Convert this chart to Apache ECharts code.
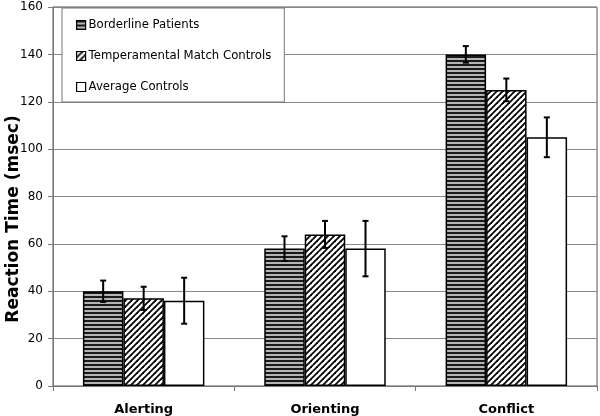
<!DOCTYPE html>
<html>
<head>
<meta charset="utf-8">
<script src="https://cdn.jsdelivr.net/npm/echarts@6/dist/echarts.min.js"></script>
<style>
  html, body { margin: 0; padding: 0; background: #fff; }
  #main { width: 600px; height: 416px; }
</style>
</head>
<body>
<div id="main"></div>
<script>
var categories = ['Alerting', 'Orienting', 'Conflict']
var groupNames = ['Borderline Patients', 'Temperamental Match Controls', 'Average Controls']
var borderlineMeans = [40, 58, 140]
var temperamentalMeans = [37, 64, 125]
var averageMeans = [36, 58, 105]
var borderlineErr = [4.5, 5.2, 3.5]
var temperamentalErr = [4.9, 5.7, 4.8]
var averageErr = [9.7, 11.7, 8.4]
var yTitle = 'Reaction Time (msec)'

// fill patterns, drawn on small canvases
function stripePattern() {
  var c = document.createElement('canvas')
  c.width = 8
  c.height = 4
  var ctx = c.getContext('2d')
  ctx.fillStyle = '#b4b4b4'
  ctx.fillRect(0, 0, 8, 4)
  ctx.fillStyle = '#1a1a1a'
  ctx.fillRect(0, 0, 8, 2)
  return { image: c, repeat: 'repeat' }
}
function hatchPattern() {
  var c = document.createElement('canvas')
  c.width = 6
  c.height = 6
  var ctx = c.getContext('2d')
  ctx.fillStyle = '#fff'
  ctx.fillRect(0, 0, 6, 6)
  ctx.strokeStyle = '#000'
  ctx.lineWidth = 1.8
  for (var k = -6; k <= 12; k += 6) {
    ctx.beginPath()
    ctx.moveTo(k - 1, 7)
    ctx.lineTo(k + 7, -1)
    ctx.stroke()
  }
  return { image: c, repeat: 'repeat' }
}

var fills = [stripePattern(), hatchPattern(), '#ffffff']
var means = [borderlineMeans, temperamentalMeans, averageMeans]
var errs = [borderlineErr, temperamentalErr, averageErr]

var errData = []
for (var s = 0; s < 3; s++) {
  for (var i = 0; i < categories.length; i++) {
    errData.push([i, s, means[s][i] - errs[s][i], means[s][i] + errs[s][i]])
  }
}

var font = 'DejaVu Sans, Verdana, sans-serif'
var catGap = 0.33

var series = []
for (var s = 0; s < 3; s++) {
  series.push({
    name: groupNames[s],
    type: 'bar',
    data: means[s],
    barGap: '0%',
    barCategoryGap: catGap * 100 + '%',
    itemStyle: { color: fills[s], borderColor: '#000', borderWidth: 1.5 },
    emphasis: { disabled: true },
  })
}
series.push({
  type: 'custom',
  silent: true,
  z: 10,
  data: errData,
  encode: { x: 0, y: [2, 3] },
  renderItem: function(params, api) {
    var cat = api.value(0)
    var sIdx = api.value(1)
    var band = api.size([1, 0])[0]
    var bw = band * (1 - catGap) / 3
    var lo = api.coord([cat, api.value(2)])
    var hi = api.coord([cat, api.value(3)])
    var x = lo[0] + (sIdx - 1) * bw
    var cap = 3
    var style = { stroke: '#000', lineWidth: 2 }
    return {
      type: 'group',
      children: [
        { type: 'line', shape: { x1: x, y1: lo[1], x2: x, y2: hi[1] }, style: style },
        { type: 'line', shape: { x1: x - cap, y1: lo[1], x2: x + cap, y2: lo[1] }, style: style },
        { type: 'line', shape: { x1: x - cap, y1: hi[1], x2: x + cap, y2: hi[1] }, style: style },
      ],
    }
  },
})

var myChart = echarts.init(document.getElementById('main'))
var option = {
  animation: false,
  textStyle: { fontFamily: font },
  grid: {
    left: 53,
    right: 3,
    top: 7,
    bottom: 30,
    outerBoundsMode: 'none',
    containLabel: false,
    show: true,
    borderColor: '#555',
    borderWidth: 1,
  },
  // y axis title placed by hand, echarts kept pushing the axis name off the edge
  graphic: [
    {
      type: 'text',
      x: 14,
      y: 219,
      rotation: Math.PI / 2,
      style: {
        text: yTitle,
        fontFamily: font,
        fontSize: 17,
        fontWeight: 'bold',
        fill: '#000',
        align: 'center',
        verticalAlign: 'middle',
      },
    },
  ],
  legend: {
    orient: 'vertical',
    left: 62,
    top: 8,
    data: groupNames,
    icon: 'rect',
    itemWidth: 9,
    itemHeight: 9,
    itemGap: 19,
    padding: [11, 13, 9, 14],
    backgroundColor: '#fff',
    borderColor: '#777',
    borderWidth: 1,
    selectedMode: false,
    itemStyle: { borderColor: '#000', borderWidth: 1.2 },
    textStyle: { fontFamily: font, fontSize: 11.7, color: '#000', padding: [0, 0, 0, -2] },
  },
  xAxis: {
    type: 'category',
    data: categories,
    axisLine: { lineStyle: { color: '#777', width: 1 } },
    axisTick: { show: true, length: 5, lineStyle: { color: '#777' } },
    axisLabel: { fontFamily: font, fontSize: 13, fontWeight: 'bold', color: '#000', margin: 17 },
  },
  yAxis: {
    type: 'value',
    min: 0,
    max: 160,
    interval: 20,
    axisLine: { show: true, lineStyle: { color: '#777', width: 1 } },
    axisTick: { show: true, length: 5, lineStyle: { color: '#777' } },
    axisLabel: { fontFamily: font, fontSize: 12, color: '#000', margin: 10 },
    splitLine: { lineStyle: { color: '#888', width: 1 } },
  },
  series: series,
}
myChart.setOption(option)
</script>
</body>
</html>
